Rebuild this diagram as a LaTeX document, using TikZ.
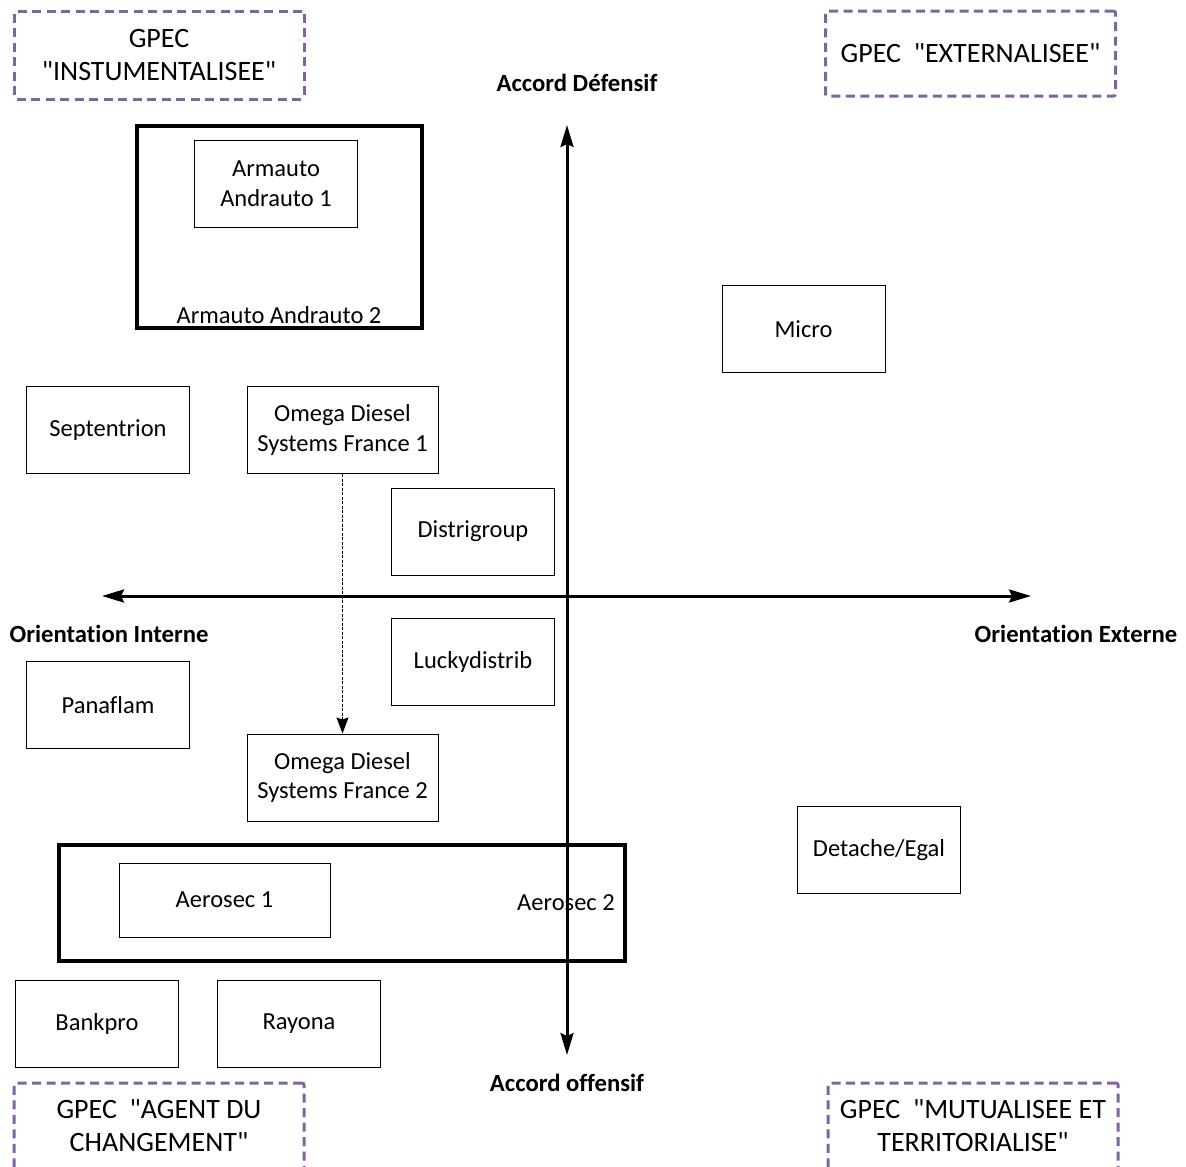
\documentclass[tikz,border=0pt]{standalone}
\usepackage{fontspec}
\setmainfont[Ligatures={TeXOff,NoCommon}]{Carlito}
\usetikzlibrary{arrows.meta}
\definecolor{gpecpurple}{HTML}{8064A2}
\tikzset{
  every node/.style={font=\fontsize{24.5}{29.5}\selectfont, align=center, inner sep=0pt},
  firm/.style={draw, line width=1pt, minimum width=#1, minimum height=87pt},
  firm/.default=163pt,
  groupbox/.style={draw, line width=3.5pt, fill=none},
  gpec/.style={draw=gpecpurple, line width=3pt, dash pattern=on 9pt off 5.5pt, rounded corners=2pt, minimum width=290pt},
  gpectxt/.style={font=\fontsize{28}{33}\selectfont},
  axislbl/.style={font=\fontsize{24.7}{29.5}\selectfont\bfseries},
  axisline/.style={line width=3pt, {Stealth[length=22pt,width=13pt,inset=3pt]}-{Stealth[length=22pt,width=13pt,inset=3pt]}},
  flow/.style={line width=1pt, dash pattern=on 3pt off 1.5pt, -{Stealth[length=16pt,width=12pt,inset=2pt]}}
}
\begin{document}
\begin{tikzpicture}[x=1pt,y=-1pt]
\useasboundingbox (0,0) rectangle (1186,1167);
\clip (0,0) rectangle (1186,1167);

% GPEC quadrant boxes
\node[gpec, minimum height=88pt] (gtl) at (159,55) {};
\node[gpectxt] (gtltxt) at (159,55) {GPEC\\"INSTUMENTALISEE"};
\node[gpec, minimum height=85pt] (gtr) at (970.5,53.5) {};
\node[gpectxt] (gtrtxt) at (970.5,53.5) {GPEC~~"EXTERNALISEE"};
\node[gpec, minimum height=92pt] (gbl) at (159,1129) {};
\node[gpectxt] (gbltxt) at (159,1126) {GPEC~~"AGENT DU\\CHANGEMENT"};
\node[gpec, minimum height=92pt] (gbr) at (973,1129) {};
\node[gpectxt] (gbrtxt) at (973,1126) {GPEC~~"MUTUALISEE ET\\TERRITORIALISE"};

% grouping boxes
\node[groupbox, minimum width=285pt, minimum height=202pt] (arm2) at (279.5,227) {};
\node (arm2lbl) at (279,315) {Armauto Andrauto 2};
\node[groupbox, minimum width=566pt, minimum height=116pt] (aer2) at (342,903) {};
\node (aer2lbl) at (566,903) {Aerosec 2};

% firms
\node[firm, minimum height=87pt] (arm1) at (276,183.5) {Armauto\\Andrauto 1};
\node[firm] (micro) at (803.5,329) {Micro};
\node[firm] (sept) at (108,430) {Septentrion};
\node[firm=191pt] (omega1) at (342.5,430) {Omega Diesel\\Systems France 1};
\node[firm] (distri) at (473,531.5) {Distrigroup};
\node[firm] (lucky) at (473,662) {Luckydistrib};
\node[firm] (pana) at (108,705) {Panaflam};
\node[firm=191pt] (omega2) at (342.5,777.5) {Omega Diesel\\Systems France 2};
\node[firm] (detache) at (879,850) {Detache/Egal};
\node[firm=211pt, minimum height=74pt] (aer1) at (224.5,900) {Aerosec 1};
\node[firm] (bank) at (97,1024) {Bankpro};
\node[firm] (rayona) at (299,1024) {Rayona};

% flow
\draw[flow] (omega1.south) -- (omega2.north);

% axes
\coordinate (ytop) at (567,125);
\coordinate (ybot) at (567,1055);
\coordinate (xleft) at (102,596);
\coordinate (xright) at (1031,596);
\draw[axisline] (ybot) -- (ytop);
\draw[axisline] (xleft) -- (xright);

\node[axislbl] (def) at (577,83) {Accord Défensif};
\node[axislbl] (off) at (567,1083) {Accord offensif};
\node[axislbl] (oint) at (109,634) {Orientation Interne};
\node[axislbl] (oext) at (1076,634) {Orientation Externe};
\end{tikzpicture}
\end{document}
